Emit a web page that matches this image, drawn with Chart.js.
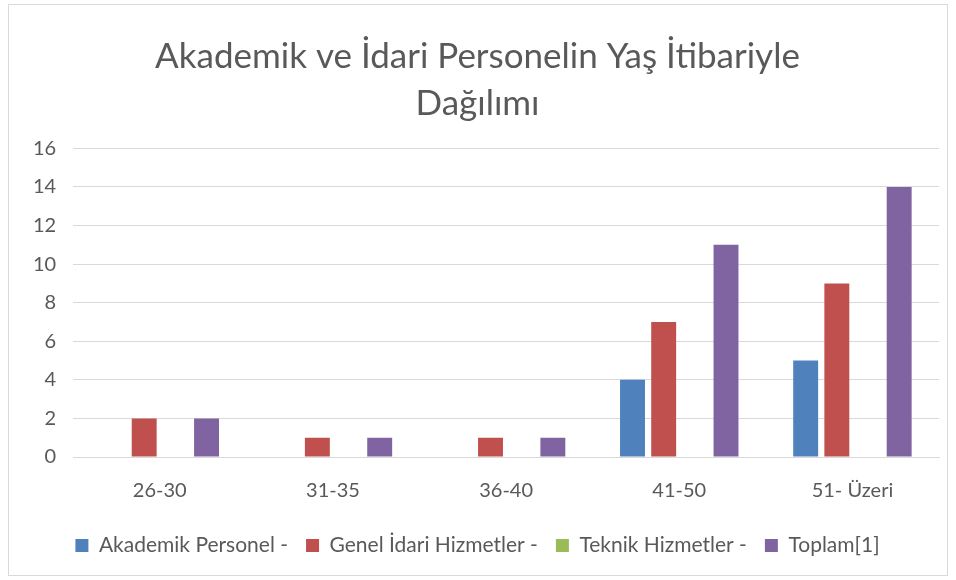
<!DOCTYPE html>
<html>
<head>
<meta charset="utf-8">
<script src="https://cdn.jsdelivr.net/npm/chart.js@4"></script>
<style>
  body { margin: 0; background: #fff; }
  #wrap { position: absolute; left: 0; top: 0; width: 956px; height: 580px; }
</style>
</head>
<body>
<div id="wrap"><canvas id="mycanvas"></canvas></div>
<script>
var categories = ["26-30", "31-35", "36-40", "41-50", "51- Üzeri"];
var akademik = [0, 0, 0, 4, 5];
var genelIdari = [2, 1, 1, 7, 9];
var teknik = [0, 0, 0, 0, 0];
var toplam = [2, 1, 1, 11, 14];
var yTicks = [0, 2, 4, 6, 8, 10, 12, 14, 16];

var fontFamily = "'Lato', 'Open Sans', sans-serif";

var borderBox = {
	id: "borderBox",
	beforeDraw: function(chart) {
		var c = chart.ctx;
		c.save();
		c.fillStyle = "#fff";
		c.fillRect(0, 0, chart.width, chart.height);
		c.strokeStyle = "#d9d9d9";
		c.lineWidth = 1;
		c.strokeRect(8.5, 4.5, 939, 571);
		c.restore();
	}
};

function makeSet(label, color, values) {
	return {
		label: label,
		backgroundColor: color,
		borderColor: color,
		borderWidth: 0,
		categoryPercentage: 0.72,
		barPercentage: 0.8,
		data: values
	};
}

var chartdata = {
	labels: categories,
	datasets: [
		makeSet("Akademik Personel -", "#4F81BD", akademik),
		makeSet("Genel İdari Hizmetler -", "#C0504D", genelIdari),
		makeSet("Teknik Hizmetler -", "#9BBB59", teknik),
		makeSet("Toplam[1]", "#8064A2", toplam)
	]
};

var ctx = document.getElementById("mycanvas");
new Chart(ctx, {
	type: "bar",
	data: chartdata,
	plugins: [borderBox],
	options: {
		responsive: true,
		maintainAspectRatio: false,
		animation: false,
		layout: { padding: { left: 16, right: 17, top: 34, bottom: 14 } },
		plugins: {
			title: {
				display: true,
				text: ["Akademik ve İdari Personelin Yaş İtibariyle", "Dağılımı"],
				color: "#595959",
				font: { family: fontFamily, size: 35, weight: "normal", lineHeight: 1.32 },
				padding: { top: 0, bottom: 22 }
			},
			legend: {
				position: "bottom",
				labels: {
					color: "#595959",
					font: { family: fontFamily, size: 21 },
					boxWidth: 13,
					boxHeight: 13,
					padding: 18
				}
			},
			tooltip: { enabled: false }
		},
		scales: {
			x: {
				grid: { display: false },
				border: { color: "#d9d9d9" },
				ticks: { color: "#595959", font: { family: fontFamily, size: 20 }, padding: 14 }
			},
			y: {
				min: 0,
				max: 16,
				afterBuildTicks: function(axis) {
					axis.ticks = yTicks.map(function(v) { return { value: v }; });
				},
				grid: { color: "#d9d9d9", drawTicks: false },
				border: { display: false },
				ticks: { color: "#595959", font: { family: fontFamily, size: 20 }, padding: 17 }
			}
		}
	}
});
</script>
</body>
</html>
